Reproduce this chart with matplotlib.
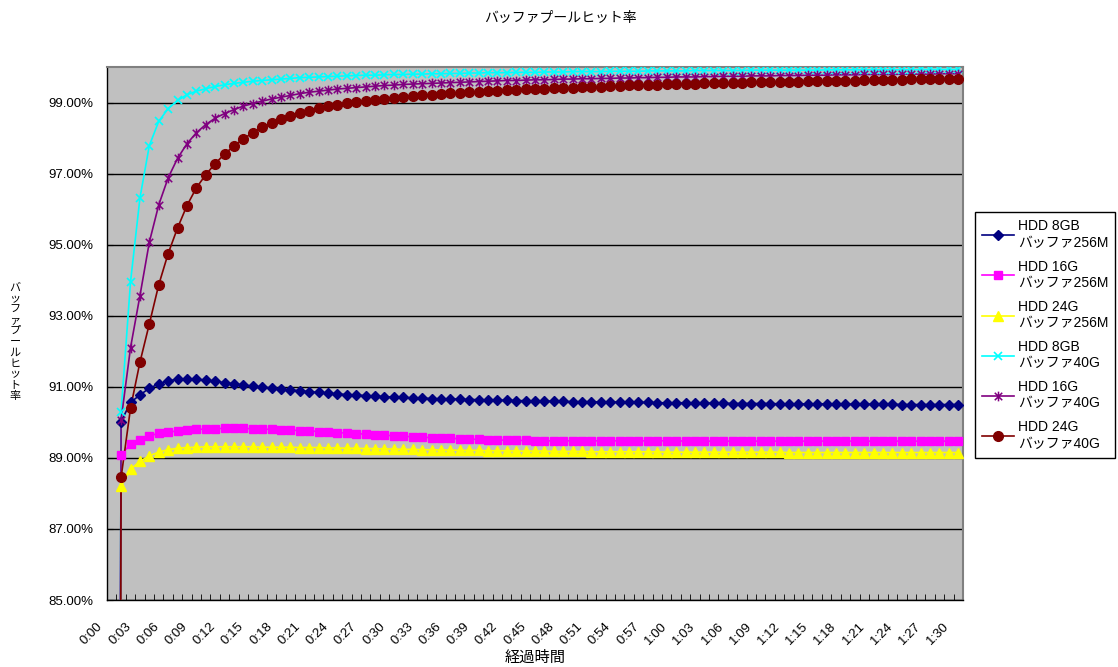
import numpy as np
import matplotlib
matplotlib.use("Agg")
import matplotlib.pyplot as plt
from matplotlib.path import Path
from matplotlib.lines import Line2D
import matplotlib.transforms as mtransforms

plt.rcParams['font.family'] = ['Liberation Sans', 'Noto Sans CJK JP']

# elapsed minutes 0:00 .. 1:30, one point per minute
minutes = list(range(91))
tick_minutes = list(range(0, 91, 3))
tick_labels = ["0:00", "0:03", "0:06", "0:09", "0:12", "0:15", "0:18", "0:21", "0:24", "0:27",
               "0:30", "0:33", "0:36", "0:39", "0:42", "0:45", "0:48", "0:51", "0:54", "0:57",
               "1:00", "1:03", "1:06", "1:09", "1:12", "1:15", "1:18", "1:21", "1:24", "1:27",
               "1:30"]

series_names = ["HDD 8GB\nバッファ256M", "HDD 16G\nバッファ256M", "HDD 24G\nバッファ256M",
                "HDD 8GB\nバッファ40G", "HDD 16G\nバッファ40G", "HDD 24G\nバッファ40G"]

hdd8_256m = [0,
    90.02, 90.56, 90.77, 90.96, 91.08, 91.17, 91.21, 91.22, 91.21, 91.19,
    91.15, 91.12, 91.08, 91.05, 91.02, 90.99, 90.96, 90.93, 90.91, 90.89,
    90.86, 90.84, 90.82, 90.80, 90.78, 90.77, 90.75, 90.74, 90.72, 90.71,
    90.70, 90.69, 90.68, 90.67, 90.66, 90.66, 90.65, 90.64, 90.64, 90.63,
    90.62, 90.62, 90.61, 90.61, 90.60, 90.60, 90.59, 90.59, 90.58, 90.58,
    90.58, 90.57, 90.57, 90.57, 90.56, 90.56, 90.56, 90.55, 90.55, 90.55,
    90.55, 90.54, 90.54, 90.54, 90.54, 90.53, 90.53, 90.53, 90.53, 90.53,
    90.52, 90.52, 90.52, 90.52, 90.52, 90.52, 90.52, 90.51, 90.51, 90.51,
    90.51, 90.51, 90.51, 90.50, 90.50, 90.50, 90.50, 90.50, 90.50, 90.50]

hdd16_256m = [0,
    89.08, 89.39, 89.51, 89.62, 89.69, 89.72, 89.76, 89.78, 89.80, 89.81,
    89.82, 89.83, 89.83, 89.83, 89.82, 89.81, 89.80, 89.79, 89.78, 89.77,
    89.76, 89.74, 89.73, 89.71, 89.70, 89.68, 89.67, 89.65, 89.64, 89.62,
    89.61, 89.59, 89.58, 89.57, 89.56, 89.55, 89.54, 89.53, 89.52, 89.51,
    89.50, 89.50, 89.49, 89.49, 89.48, 89.48, 89.48, 89.48, 89.48, 89.48,
    89.48, 89.48, 89.48, 89.48, 89.48, 89.48, 89.48, 89.48, 89.48, 89.48,
    89.47, 89.47, 89.47, 89.47, 89.47, 89.47, 89.47, 89.47, 89.47, 89.47,
    89.47, 89.47, 89.47, 89.47, 89.47, 89.47, 89.47, 89.47, 89.47, 89.47,
    89.47, 89.47, 89.47, 89.47, 89.47, 89.47, 89.47, 89.47, 89.47, 89.47]

hdd24_256m = [0,
    88.21, 88.68, 88.90, 89.06, 89.16, 89.23, 89.27, 89.29, 89.30, 89.31,
    89.31, 89.31, 89.31, 89.31, 89.31, 89.30, 89.30, 89.30, 89.30, 89.29,
    89.29, 89.29, 89.28, 89.28, 89.27, 89.27, 89.26, 89.26, 89.25, 89.25,
    89.24, 89.24, 89.23, 89.23, 89.22, 89.22, 89.21, 89.21, 89.21, 89.20,
    89.20, 89.20, 89.19, 89.19, 89.19, 89.19, 89.18, 89.18, 89.18, 89.18,
    89.17, 89.17, 89.17, 89.17, 89.17, 89.17, 89.17, 89.17, 89.16, 89.16,
    89.16, 89.16, 89.16, 89.16, 89.16, 89.16, 89.16, 89.16, 89.16, 89.16,
    89.16, 89.15, 89.15, 89.15, 89.15, 89.15, 89.15, 89.15, 89.15, 89.15,
    89.15, 89.15, 89.15, 89.15, 89.15, 89.15, 89.15, 89.15, 89.15, 89.15]

hdd8_40g = [0,
    90.30, 93.95, 96.31, 97.79, 98.47, 98.83, 99.06, 99.22, 99.32, 99.39,
    99.45, 99.50, 99.54, 99.57, 99.60, 99.62, 99.64, 99.66, 99.68, 99.70,
    99.71, 99.72, 99.73, 99.74, 99.75, 99.76, 99.77, 99.77, 99.78, 99.79,
    99.79, 99.80, 99.80, 99.81, 99.81, 99.82, 99.82, 99.83, 99.83, 99.84,
    99.84, 99.84, 99.85, 99.85, 99.85, 99.86, 99.86, 99.86, 99.87, 99.87,
    99.87, 99.87, 99.88, 99.88, 99.88, 99.88, 99.89, 99.89, 99.89, 99.89,
    99.89, 99.90, 99.90, 99.90, 99.90, 99.90, 99.90, 99.91, 99.91, 99.91,
    99.91, 99.91, 99.91, 99.91, 99.91, 99.92, 99.92, 99.92, 99.92, 99.92,
    99.92, 99.92, 99.92, 99.92, 99.92, 99.93, 99.93, 99.93, 99.93, 99.93]

hdd16_40g = [0,
    90.07, 92.10, 93.56, 95.07, 96.12, 96.88, 97.43, 97.84, 98.15, 98.38,
    98.56, 98.69, 98.80, 98.90, 98.97, 99.04, 99.10, 99.15, 99.20, 99.25,
    99.29, 99.32, 99.35, 99.38, 99.40, 99.42, 99.44, 99.46, 99.48, 99.49,
    99.51, 99.52, 99.53, 99.54, 99.55, 99.56, 99.57, 99.58, 99.59, 99.60,
    99.61, 99.62, 99.62, 99.63, 99.64, 99.64, 99.65, 99.66, 99.66, 99.67,
    99.67, 99.68, 99.68, 99.69, 99.69, 99.70, 99.70, 99.71, 99.71, 99.72,
    99.72, 99.72, 99.73, 99.73, 99.74, 99.74, 99.74, 99.75, 99.75, 99.75,
    99.76, 99.76, 99.76, 99.77, 99.77, 99.77, 99.78, 99.78, 99.78, 99.79,
    99.79, 99.79, 99.79, 99.80, 99.80, 99.80, 99.80, 99.81, 99.81, 99.81]

hdd24_40g = [0,
    88.45, 90.40, 91.69, 92.77, 93.87, 94.75, 95.47, 96.10, 96.60, 96.97,
    97.28, 97.55, 97.78, 97.98, 98.15, 98.30, 98.42, 98.53, 98.62, 98.70,
    98.77, 98.84, 98.89, 98.94, 98.98, 99.02, 99.05, 99.08, 99.11, 99.14,
    99.16, 99.18, 99.20, 99.22, 99.24, 99.26, 99.27, 99.29, 99.30, 99.32,
    99.33, 99.35, 99.36, 99.37, 99.38, 99.39, 99.40, 99.41, 99.42, 99.43,
    99.44, 99.45, 99.46, 99.47, 99.48, 99.49, 99.50, 99.50, 99.51, 99.52,
    99.53, 99.53, 99.54, 99.54, 99.55, 99.56, 99.56, 99.57, 99.57, 99.58,
    99.58, 99.59, 99.59, 99.60, 99.60, 99.61, 99.61, 99.62, 99.62, 99.63,
    99.63, 99.63, 99.64, 99.64, 99.65, 99.65, 99.65, 99.66, 99.66, 99.67]

# Excel-like asterisk marker: an X with a vertical stroke
asterisk = Path([(-1, -1), (1, 1), (-1, 1), (1, -1), (0, -1.3), (0, 1.3)],
                [Path.MOVETO, Path.LINETO] * 3)

styles = [
    dict(color="#000080", marker="D", ms=5, mfc="#000080", mec="#000080"),
    dict(color="#FF00FF", marker="s", ms=6, mfc="#FF00FF", mec="#FF00FF"),
    dict(color="#FFFF00", marker="^", ms=6.5, mfc="#FFFF00", mec="#FFFF00"),
    dict(color="#00FFFF", marker="x", ms=6, mew=1.2, mec="#00FFFF"),
    dict(color="#800080", marker=asterisk, ms=7, mew=1.1, mfc="none", mec="#800080"),
    dict(color="#800000", marker="o", ms=7, mfc="#800000", mec="#800000"),
]

all_series = [hdd8_256m, hdd16_256m, hdd24_256m, hdd8_40g, hdd16_40g, hdd24_40g]

fig = plt.figure(figsize=(11.18, 6.67), dpi=100)
ax = fig.add_axes([107/1118, 67/667, 856/1118, 533/667])
ax.set_facecolor("#C0C0C0")

handles = []
for vals, name, st in zip(all_series, series_names, styles):
    vals = np.array(vals)
    # line through every point (the 0:00 start value drops off the bottom)
    ax.plot(minutes, vals, color=st["color"], lw=1.2, zorder=3)
    kw = {k: v for k, v in st.items() if k != "color"}
    ax.plot(minutes[1:], vals[1:], ls="none", zorder=4, **kw)
    handles.append(Line2D([], [], color=st["color"], lw=1.2, label=name, **kw))

ax.set_xlim(-0.5, 90.5)
ax.set_ylim(85, 100)

yt = np.arange(85, 100, 2)
ax.set_yticks(yt)
ax.set_yticklabels([f"{v:.2f}%" for v in yt], fontsize=9.5)
ax.yaxis.grid(True, color="black", lw=1)
ax.set_axisbelow(True)
ax.tick_params(axis="y", direction="in", length=4, pad=10, color="black")

ax.set_xticks(tick_minutes)
ax.set_xticklabels(tick_labels, fontsize=9.5, rotation=45, ha="right", va="top",
                   rotation_mode="anchor")
ax.set_xticks(np.arange(-0.5, 91, 1), minor=True)
ax.tick_params(axis="x", which="major", length=0, pad=0)
ax.tick_params(axis="x", which="minor", direction="in", length=4, color="black")
shift = mtransforms.ScaledTranslation(-0.15, -0.2, fig.dpi_scale_trans)
for lab in ax.get_xticklabels():
    lab.set_transform(lab.get_transform() + shift)

for side in ["left", "bottom"]:
    ax.spines[side].set_color("black")
    ax.spines[side].set_linewidth(1)
for side in ["top", "right"]:
    ax.spines[side].set_color("#808080")
    ax.spines[side].set_linewidth(1.5)

ax.set_xlabel("経過時間", fontsize=11)
ax.xaxis.set_label_coords(0.5, -0.095)

fig.text(560/1118, 1 - 18/667, "バッファプールヒット率", ha="center", va="center", fontsize=10)
fig.text(15/1118, 1 - 342/667, "\n".join("バッファプールヒット率"), ha="center", va="center",
         fontsize=8, linespacing=1.1)

leg = ax.legend(handles=handles, loc="center left", bbox_to_anchor=(975/1118, 1 - 335/667),
                bbox_transform=fig.transFigure, fontsize=10, frameon=True, fancybox=False,
                framealpha=1, edgecolor="black", handlelength=2.3, handletextpad=0.3,
                labelspacing=0.72, borderpad=0.5, borderaxespad=0)
leg.get_frame().set_linewidth(1)

fig.savefig("out.png", dpi=100)
